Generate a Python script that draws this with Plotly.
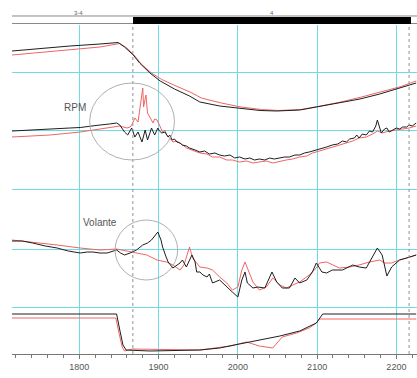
import plotly.graph_objects as go

# ---- data (x: time axis units, y: arbitrary strip-chart units) ----
top_black_x = [1715,1750,1788,1826,1849,1857,1868,1876,1889,1902,1920,1939,1952,1977,2002,2028,2049,2078,2099,2128,2154,2179,2204,2225]
top_black_y = [303,305.5,308,310,311.5,307,299,291,281,273,265,258,252,248,245.5,243.5,243,244,247,251,255,260,266,271]
top_red_x = [1715,1750,1788,1826,1851,1860,1870,1878,1891,1904,1922,1941,1954,1979,2004,2030,2051,2080,2101,2130,2156,2181,2206,2225]
top_red_y = [299,301.5,304,307,310.5,306,298,290,281,274.5,268,261.5,256,251,247,244.5,243.5,244.5,247.5,252,257,262,267.5,273]

rpm_black_x = [1715,1725,1738,1750,1763,1775,1788,1801,1813,1826,1838,1847,1851,1857,1861,1864,1866,1870,1874,1876,1879,1883,1886,1889,1891,1895,1899,1901,1904,1908,1912,1914,1917,1920,1923,1927,1930,1935,1939,1946,1952,1958,1964,1971,1977,1983,1990,1996,2002,2009,2015,2021,2027,2034,2040,2046,2053,2059,2065,2072,2078,2084,2090,2099,2106,2112,2119,2126,2132,2137,2141,2147,2150,2153,2157,2162,2166,2170,2174,2176,2179,2181,2185,2188,2191,2195,2200,2204,2208,2213,2216,2220,2225]
rpm_black_y = [223,223.5,224,224.5,225,225.5,226,226.5,228,229,230,231,229,222,219,224,226,217,222,218,212,224,214,221,226,219,226,223,221,222,217,219,214,215,212,211,209,208,206,204,202,203,200,201,199,198,199,196,197,195,196,194,195,194,196,195,196,197,197,199,199,201,202,204,205,207,209,210,213,212,215,216,219,216,220,219,223,222,228,234,226,221,225,226,222,224,226,225,227,227,229,228,231]
rpm_red_x = [1715,1738,1763,1801,1826,1838,1851,1860,1864,1866,1870,1874,1876,1879,1880,1881,1884,1886,1889,1893,1895,1898,1901,1905,1908,1910,1914,1918,1923,1927,1932,1935,1943,1952,1961,1968,1977,1986,1993,2002,2011,2019,2027,2036,2044,2053,2061,2069,2078,2087,2094,2103,2112,2119,2128,2137,2145,2153,2162,2170,2176,2182,2191,2200,2208,2216,2225]
rpm_red_y = [217,218,219,222,225,227,228,226,227,229,236,232,244,259,266,247,259,241,236,231,235,234,229,222,224,219,216,212,213,211,208,206,204,201,200,197,197,194,194,192,193,191,192,193,191,193,194,195,197,198,201,203,205,207,209,211,213,216,217,220,223,221,223,224,225,226,228]

vol_black_x = [1715,1728,1741,1757,1772,1786,1801,1810,1817,1826,1835,1842,1847,1852,1857,1864,1869,1872,1880,1886,1891,1895,1899,1903,1905,1909,1912,1918,1923,1927,1930,1935,1942,1946,1948,1952,1956,1961,1964,1968,1977,1982,1986,1993,2000,2005,2009,2012,2019,2025,2034,2043,2049,2056,2065,2072,2078,2087,2094,2099,2106,2112,2119,2132,2145,2153,2162,2169,2176,2182,2188,2194,2204,2213,2225]
vol_black_y = [113,113,111,108,106,103,101,102,102,101,101,103,104,101,99,101,103,104,109,111,114,118,122,114,107,98,92,86,89,91,94,87,99,92,82,82,79,77,80,71,74,70,67,62,57,74,82,71,66,67,66,82,72,66,66,76,71,74,82,91,82,81,84,84,89,87,86,96,106,99,78,87,94,96,99]
vol_red_x = [1715,1741,1772,1801,1826,1847,1867,1885,1898,1910,1918,1927,1932,1935,1939,1943,1952,1961,1968,1977,1986,1993,2000,2005,2009,2013,2019,2027,2036,2044,2053,2061,2069,2078,2090,2099,2103,2112,2128,2141,2153,2166,2179,2185,2194,2204,2225]
vol_red_y = [114,112,109,106,104,105,102,99,94,92,89,84,89,96,107,96,87,86,84,77,71,64,67,84,92,84,72,64,67,76,69,66,69,72,79,86,91,92,86,87,89,92,94,91,91,94,99]

thr_black_x = [1715,1847,1851,1855,1859,1889,1952,1977,2002,2027,2053,2078,2099,2107,2225]
thr_black_y = [40,40,24,9,4,3,4,6,10,14,18,23,31,40,40]
thr_red_x = [1715,1846,1850,1854,1857,1867,1952,1990,2011,2027,2044,2056,2074,2090,2099,2103,2225]
thr_red_y = [36,36,21,7,3,5,4,8,12,8,6,17,21,26,31,35,35]

x_ticks = [1800, 1900, 2000, 2100, 2200]
y_grid = [47, 105, 165, 224, 282]
markers = [1867.5, 2216]

BLACK = "#1e1e1e"
RED = "#f06464"
CYAN = "#6fdbe4"
FONT = "Liberation Sans, Arial, sans-serif"

fig = go.Figure()
pairs = [
    (top_red_x, top_red_y, RED), (top_black_x, top_black_y, BLACK),
    (rpm_red_x, rpm_red_y, RED), (rpm_black_x, rpm_black_y, BLACK),
    (vol_red_x, vol_red_y, RED), (vol_black_x, vol_black_y, BLACK),
    (thr_red_x, thr_red_y, RED), (thr_black_x, thr_black_y, BLACK),
]
for xs, ys, c in pairs:
    fig.add_trace(go.Scatter(x=xs, y=ys, mode="lines", line=dict(color=c, width=1),
                             showlegend=False, hoverinfo="skip"))

shapes = []
# top status bar
for yy in (1.0046, 1.0274):
    shapes.append(dict(type="line", xref="paper", yref="paper", x0=0, x1=1, y0=yy, y1=yy,
                       line=dict(color="#8a8a8a", width=1)))
shapes.append(dict(type="rect", xref="paper", yref="paper", x0=0.2988, x1=0.9852, y0=1.003, y1=1.0243,
                   fillcolor="black", line=dict(width=0)))
for m in markers:
    shapes.append(dict(type="line", xref="x", yref="paper", x0=m, x1=m, y0=0, y1=1.0,
                       line=dict(color="#909090", width=1, dash="dot")))
# highlight circles
shapes.append(dict(type="circle", xref="x", yref="y", x0=1813, x1=1920, y0=194, y1=271,
                   line=dict(color="#b0b0b0", width=1)))
shapes.append(dict(type="circle", xref="x", yref="y", x0=1845, x1=1924, y0=74, y1=134,
                   line=dict(color="#b0b0b0", width=1)))

annotations = [
    dict(x=1794, y=247, xref="x", yref="y", text="RPM", showarrow=False,
         font=dict(family=FONT, size=10, color="#555")),
    dict(x=1826, y=132, xref="x", yref="y", text="Volante", showarrow=False,
         font=dict(family=FONT, size=10, color="#555")),
    dict(x=0.148, y=1.052, xref="paper", yref="paper", text="3-4", showarrow=False,
         font=dict(family=FONT, size=6, color="#666")),
    dict(x=0.642, y=1.052, xref="paper", yref="paper", text="4", showarrow=False,
         font=dict(family=FONT, size=6, color="#666")),
]

fig.update_layout(
    width=417, height=378,
    margin=dict(l=12, r=0, t=25, b=24),
    paper_bgcolor="white", plot_bgcolor="white",
    shapes=shapes, annotations=annotations,
    font=dict(family=FONT),
    xaxis=dict(range=[1715, 2226], tickmode="array", tickvals=x_ticks,
               ticktext=[str(v) for v in x_ticks],
               showgrid=True, gridcolor=CYAN, gridwidth=1, zeroline=False,
               showline=True, linecolor="#777", linewidth=1,
               ticks="outside", ticklen=4, tickcolor="#777",
               tickfont=dict(family=FONT, size=9, color="#555"),
               minor=dict(tickmode="linear", tick0=1700, dtick=20, ticks="outside",
                          ticklen=3, tickcolor="#777", showgrid=False)),
    yaxis=dict(range=[0, 329], tickmode="array", tickvals=y_grid, showticklabels=False,
               showgrid=True, gridcolor=CYAN, gridwidth=1, zeroline=False,
               showline=False, ticks=""),
)

fig.write_html("out.html")
